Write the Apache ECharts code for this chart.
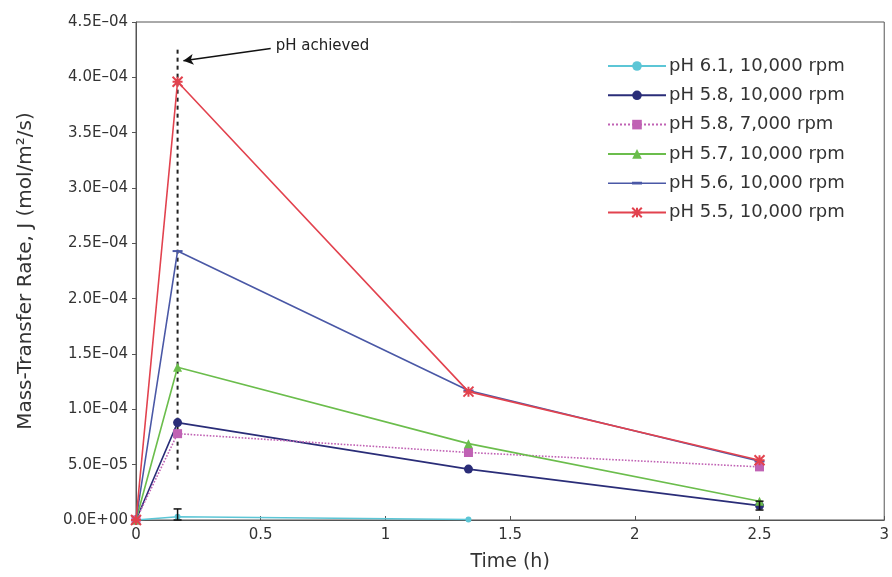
<!DOCTYPE html>
<html><head><meta charset="utf-8">
<script src="https://cdn.jsdelivr.net/npm/echarts@6/dist/echarts.min.js"></script>
<style>html,body{margin:0;padding:0;background:#fff}#c{width:892px;height:577px}</style>
</head><body><div id="c"></div>
<script>
// ---- data ----
const times = [0, 0.1667, 1.333, 2.5];
const seriesNames = ["pH 6.1, 10,000 rpm","pH 5.8, 10,000 rpm","pH 5.8, 7,000 rpm","pH 5.7, 10,000 rpm","pH 5.6, 10,000 rpm","pH 5.5, 10,000 rpm"];
const ph61 = [0, 3e-6, 5e-7, null];
const ph58_10k = [0, 8.8e-5, 4.6e-5, 1.3e-5];
const ph58_7k = [0, 7.8e-5, 6.1e-5, 4.8e-5];
const ph57 = [0, 1.38e-4, 6.9e-5, 1.7e-5];
const ph56 = [0, 2.43e-4, 1.17e-4, 5.3e-5];
const ph55 = [0, 3.96e-4, 1.16e-4, 5.4e-5];
// error bars: [time, low, high]
const errBars = [[0.1667, 0, 1.0e-5], [2.5, 9e-6, 1.7e-5]];
const phLine = [[0.1667, 4.25e-4], [0.1667, 4.3e-5]];
const arrowFrom = [0.54, 4.26e-4], arrowTo = [0.19, 4.15e-4];
const labelAt = [0.56, 4.28e-4];
const yTicks = {min: 0, max: 4.5e-4, interval: 5e-5};
const xTicks = {min: 0, max: 3, interval: 0.5};

const pair = arr => times.map((t,i)=>[t, arr[i]]).filter(p=>p[1]!==null);
const FONT = 'DejaVu Sans';
const styles = [
  {c:'#5cc6d6', sym:'circle', size:6, type:'solid'},
  {c:'#2a2d78', sym:'circle', size:9, type:'solid'},
  {c:'#c062b4', sym:'rect', size:9, type:'dotted'},
  {c:'#6bbd4c', sym:'triangle', size:9, type:'solid'},
  {c:'#4a58a6', sym:'path://M0,4L10,4L10,6L0,6Z', size:10, type:'solid'},
  {c:'#e2424e', sym:'path://M0,0L10,10M10,0L0,10M5,0L5,10M0,5L10,5', size:10, type:'solid'}
];
const datas = [ph61, ph58_10k, ph58_7k, ph57, ph56, ph55];
const series = datas.map((d,i)=>({
  name: seriesNames[i], type:'line', data: pair(d), symbol: styles[i].sym, symbolSize: styles[i].size,
  symbolKeepAspect: true, showAllSymbol:true,
  lineStyle:{color: styles[i].c, width: 1.6, type: styles[i].type},
  itemStyle:{color: styles[i].c, borderColor: styles[i].c, borderWidth: i===5?2:0},
  z: 3 + i, animation:false
}));
series.push({
  type:'line', data: phLine, symbol:'none', lineStyle:{color:'#222', type:[4,4], width:2}, z:2, animation:false,
  markLine:{silent:true, symbol:['none','arrow'], symbolSize:[8,10], animation:false,
    lineStyle:{color:'#111', type:'solid', width:1.5},
    label:{show:false},
    data:[[{coord: arrowFrom},{coord: arrowTo}]]},
  markPoint:{silent:true, symbol:'circle', symbolSize:0, animation:false,
    label:{show:true, position:'right', distance:0, formatter:'pH achieved', color:'#222', fontFamily:FONT, fontSize:15},
    data:[{coord: labelAt}]}
});
series.push({
  type:'custom', z:10, animation:false, data: errBars,
  renderItem:(params, api)=>{
    const x = api.coord([api.value(0), 0])[0];
    const lo = api.coord([api.value(0), api.value(1)])[1];
    const hi = api.coord([api.value(0), api.value(2)])[1];
    const st = {stroke:'#111', lineWidth:1.5};
    return {type:'group', children:[
      {type:'line', shape:{x1:x,y1:lo,x2:x,y2:hi}, style:st},
      {type:'line', shape:{x1:x-4,y1:lo,x2:x+4,y2:lo}, style:st},
      {type:'line', shape:{x1:x-4,y1:hi,x2:x+4,y2:hi}, style:st}
    ]};
  }
});
const fmtY = v => {
  if (v === 0) return '0.0E+00';
  const s = v.toExponential(1).split('e');
  const e = parseInt(s[1],10);
  return s[0] + 'E' + (e<0?'–':'+') + String(Math.abs(e)).padStart(2,'0');
};
const legendData = seriesNames.map((n,i)=> i===4
  ? {name:n, icon:'path://M0,0L0.1,0L0,0.1Z M0,5.3L58,5.3L58,6.7L0,6.7Z M24,4.6L34,4.6L34,7.4L24,7.4Z M57.9,12L58,12L58,11.9Z', itemStyle:{color: styles[i].c}}
  : {name:n});
const chart = echarts.init(document.getElementById('c'), null, {renderer:'canvas'});
chart.setOption({
  animation:false,
  backgroundColor:'#fff',
  grid:{left:136, right:2, top:22, bottom:56, show:true, borderColor:'#555', borderWidth:1},
  xAxis:{type:'value', min:xTicks.min, max:xTicks.max, interval:xTicks.interval,
    name:'Time (h)', nameLocation:'middle', nameGap:33,
    nameTextStyle:{fontFamily:FONT, fontSize:19, color:'#333'},
    axisLine:{lineStyle:{color:'#555'}}, axisTick:{inside:true, length:4, lineStyle:{color:'#555'}},
    splitLine:{show:false}, axisLabel:{fontFamily:FONT, fontSize:15, color:'#333', margin:8}},
  yAxis:{type:'value', min:yTicks.min, max:yTicks.max, interval:yTicks.interval,
    name:'Mass-Transfer Rate, J (mol/m²/s)', nameLocation:'middle', nameGap:100,
    nameTextStyle:{fontFamily:FONT, fontSize:20, color:'#333'},
    axisLine:{lineStyle:{color:'#555'}}, axisTick:{length:4, lineStyle:{color:'#555'}},
    splitLine:{show:false}, axisLabel:{fontFamily:FONT, fontSize:15, color:'#333', margin:8, formatter: fmtY}},
  legend:{left:602, top:52, orient:'vertical', itemWidth:58, itemHeight:12, itemGap:11.3,
    data: legendData,
    textStyle:{fontFamily:FONT, fontSize:18, lineHeight:18, color:'#333', padding:[0,0,0,-2]}},
  series: series
});
</script></body></html>
